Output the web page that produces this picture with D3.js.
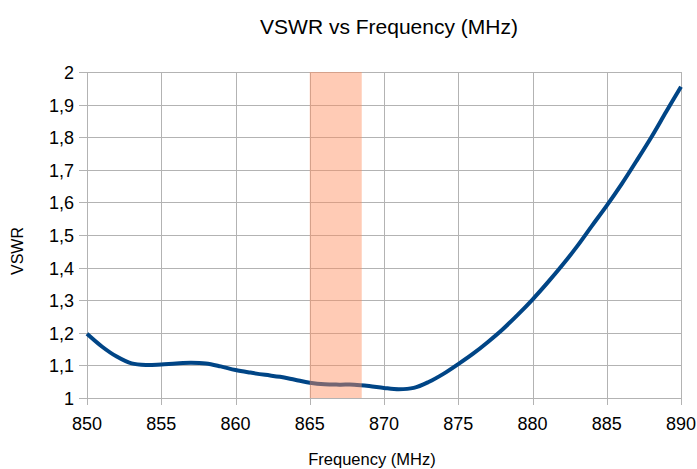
<!DOCTYPE html>
<html>
<head>
<meta charset="utf-8">
<script src="https://cdn.jsdelivr.net/npm/d3@7"></script>
<style>
  body { margin: 0; background: #fff; }
  text { font-family: "Liberation Sans", Arial, sans-serif; fill: #000; }
</style>
</head>
<body>
<div id="chart"></div>
<script>
const freqs = [850, 851, 852, 853, 854, 855, 856, 857, 858, 859, 860,
               861, 862, 863, 864, 865, 866, 867, 868, 869, 870,
               871, 872, 873, 874, 875, 876, 877, 878, 879, 880,
               881, 882, 883, 884, 885, 886, 887, 888, 889, 890];
const vswr = [1.197, 1.158, 1.127, 1.106, 1.101, 1.103, 1.106, 1.108, 1.106, 1.097, 1.086,
              1.078, 1.071, 1.065, 1.056, 1.047, 1.042, 1.041, 1.041, 1.037, 1.031,
              1.027, 1.031, 1.049, 1.074, 1.104, 1.136, 1.172, 1.211, 1.255, 1.302,
              1.353, 1.407, 1.465, 1.528, 1.590, 1.656, 1.727, 1.800, 1.878, 1.955];
// highlighted band
const band = [865, 868.5];
const xTicks = [850, 855, 860, 865, 870, 875, 880, 885, 890];
const yTicks = [1, 1.1, 1.2, 1.3, 1.4, 1.5, 1.6, 1.7, 1.8, 1.9, 2];
const yTickLabels = ["1", "1,1", "1,2", "1,3", "1,4", "1,5", "1,6", "1,7", "1,8", "1,9", "2"];

const width = 697, height = 469;
const margin = {top: 72, right: 16, bottom: 71, left: 87};

const svg = d3.select("#chart").append("svg")
  .attr("width", width)
  .attr("height", height);

const x = d3.scaleLinear().domain([850, 890]).range([margin.left, width - margin.right]);
const y = d3.scaleLinear().domain([1, 2]).range([height - margin.bottom, margin.top]);

// grid
svg.append("g")
  .selectAll("line.v")
  .data(xTicks)
  .enter().append("line")
  .attr("x1", d => Math.round(x(d)) + 0.5).attr("x2", d => Math.round(x(d)) + 0.5)
  .attr("y1", y(2)).attr("y2", y(1) + 7)
  .attr("stroke", "#b3b3b3");

svg.append("g")
  .selectAll("line.h")
  .data(yTicks)
  .enter().append("line")
  .attr("x1", x(850) - 8).attr("x2", x(890))
  .attr("y1", d => Math.round(y(d)) + 0.5).attr("y2", d => Math.round(y(d)) + 0.5)
  .attr("stroke", "#b3b3b3");

// tick labels
svg.append("g")
  .selectAll("text")
  .data(xTicks)
  .enter().append("text")
  .attr("x", d => x(d))
  .attr("y", 430)
  .attr("text-anchor", "middle")
  .style("font-size", "18px")
  .text(d => d);

svg.append("g")
  .selectAll("text")
  .data(yTicks)
  .enter().append("text")
  .attr("x", 74)
  .attr("y", d => y(d) + 7)
  .attr("text-anchor", "end")
  .style("font-size", "18px")
  .text((d, i) => yTickLabels[i]);

// curve
const line = d3.line()
  .x((d, i) => x(freqs[i]))
  .y(d => y(d))
  .curve(d3.curveCatmullRom.alpha(0.5));

svg.append("path")
  .datum(vswr)
  .attr("d", line)
  .attr("fill", "none")
  .attr("stroke", "#004586")
  .attr("stroke-width", 4)
  .attr("stroke-linejoin", "round");

// band drawn over the line
svg.append("rect")
  .attr("x", x(band[0]))
  .attr("width", x(band[1]) - x(band[0]))
  .attr("y", y(2))
  .attr("height", y(1) - y(2))
  .attr("fill", "#ff8c5a")
  .attr("opacity", 0.45);

// titles
svg.append("text")
  .attr("x", 389).attr("y", 34)
  .attr("text-anchor", "middle")
  .style("font-size", "21px")
  .text("VSWR vs Frequency (MHz)");

svg.append("text")
  .attr("x", 372).attr("y", 465)
  .attr("text-anchor", "middle")
  .style("font-size", "16.5px")
  .text("Frequency (MHz)");

svg.append("text")
  .attr("transform", "translate(23,251) rotate(-90)")
  .attr("text-anchor", "middle")
  .style("font-size", "16px")
  .text("VSWR");
</script>
</body>
</html>
